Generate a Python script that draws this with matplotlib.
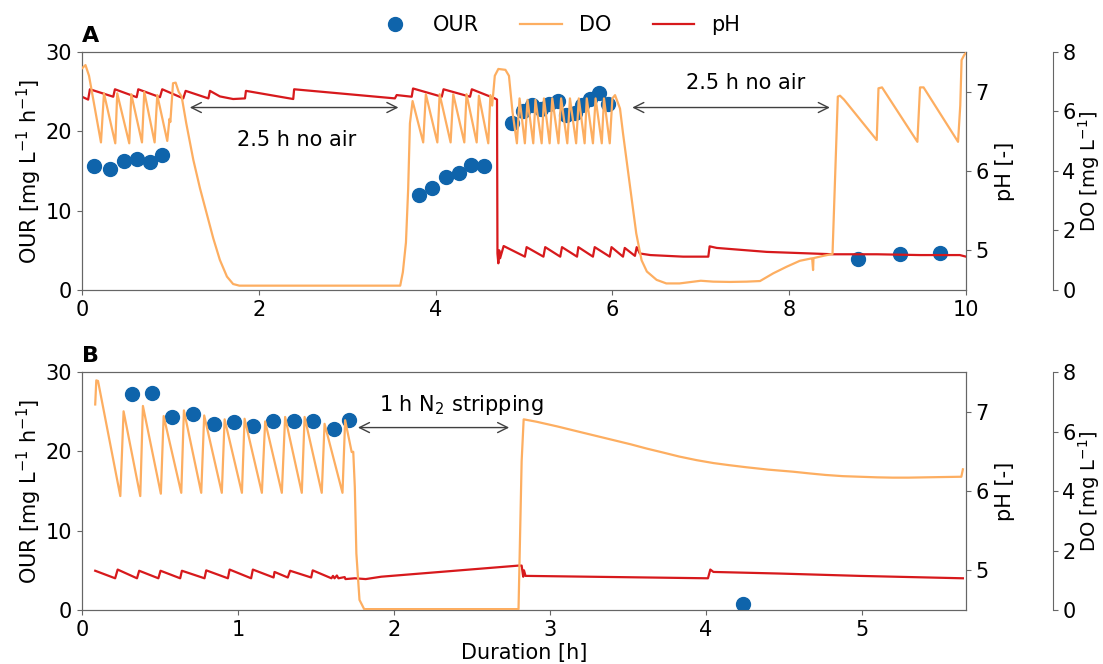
import matplotlib
matplotlib.use("Agg")
import matplotlib.pyplot as plt

# ---------------- data: panel A ----------------
a_our_t = [0.14, 0.317, 0.475, 0.622, 0.77, 0.90,
           3.81, 3.956, 4.12, 4.26, 4.40, 4.55,
           4.86, 4.985, 5.09, 5.196, 5.28, 5.38, 5.47, 5.58, 5.66, 5.75, 5.845, 5.95,
           8.775, 9.25, 9.71]
a_our = [15.66, 15.2, 16.25, 16.5, 16.1, 17.0,
         11.97, 12.8, 14.2, 14.8, 15.8, 15.6,
         21.0, 22.55, 23.3, 22.8, 23.5, 23.85, 22.1, 22.3, 23.3, 24.07, 24.86, 23.4,
         3.87, 4.5, 4.7]

a_do_t = [0.00, 0.04, 0.08, 0.215, 0.249, 0.377, 0.399, 0.535, 0.558, 0.679, 0.705,
          0.822, 0.852, 0.965, 0.99, 1.00, 1.03, 1.06, 1.094, 1.128, 1.18, 1.26, 1.335,
          1.41, 1.485, 1.56, 1.64, 1.71, 1.78, 3.60, 3.63, 3.665, 3.69, 3.71, 3.74,
          3.86, 3.89, 4.02, 4.046, 4.17, 4.20, 4.325, 4.35, 4.465, 4.49, 4.596, 4.62,
          4.64, 4.67, 4.71, 4.79, 4.83, 4.87, 4.92, 4.95, 5.01, 5.04, 5.105, 5.13,
          5.20, 5.226, 5.29, 5.32, 5.39, 5.42, 5.49, 5.52, 5.59, 5.62, 5.686, 5.71,
          5.78, 5.81, 5.88, 5.905, 5.97, 6.0, 6.03, 6.086, 6.12, 6.2, 6.27, 6.33,
          6.39, 6.50, 6.61, 6.76, 6.92, 7.0, 7.14, 7.33, 7.52, 7.67, 7.82, 7.97,
          8.12, 8.25, 8.26, 8.27, 8.275, 8.39, 8.49, 8.55, 8.575, 8.62, 8.99, 9.01,
          9.05, 9.45, 9.48, 9.52, 9.91, 9.935, 9.95, 9.98, 10.0]
a_do = [7.45, 7.56, 7.2, 4.96, 6.61, 4.93, 6.61, 4.93, 6.58, 4.96, 6.66,
        4.96, 6.55, 5.01, 5.75, 5.65, 6.95, 6.97, 6.66, 6.5, 5.6, 4.37, 3.42,
        2.58, 1.74, 1.01, 0.45, 0.2, 0.145, 0.145, 0.6, 1.6, 3.4, 5.6, 6.35,
        4.96, 6.58, 4.96, 6.58, 4.96, 6.58, 4.96, 6.58, 4.96, 6.53, 4.93, 6.55,
        6.2, 7.2, 7.43, 7.40, 7.2, 5.99, 4.93, 6.44, 4.93, 6.39, 4.93, 6.39,
        4.93, 6.44, 4.93, 6.44, 4.93, 6.44, 4.93, 6.44, 4.93, 6.44, 4.93, 6.44,
        4.93, 6.44, 4.93, 6.44, 4.93, 6.44, 6.55, 6.1, 5.27, 3.47, 1.9, 1.0,
        0.62, 0.34, 0.22, 0.22, 0.28, 0.31, 0.28, 0.27, 0.28, 0.30, 0.56, 0.78,
        0.98, 1.06, 1.06, 0.67, 1.07, 1.15, 1.21, 6.5, 6.53, 6.4, 5.04, 6.78,
        6.81, 4.98, 6.81, 6.81, 4.98, 6.2, 7.73, 7.9, 7.97]

a_ph_t = [0.0, 0.07, 0.09, 0.354, 0.373, 0.619, 0.637, 0.882, 0.908, 1.146, 1.173,
          1.43, 1.448, 1.56, 1.71, 1.844, 1.855, 2.39, 2.40, 3.54, 3.56, 3.73, 3.745,
          4.07, 4.09, 4.39, 4.41, 4.67, 4.695, 4.70, 4.71, 4.72, 4.73, 4.77, 5.01,
          5.03, 5.22, 5.24, 5.41, 5.43, 5.60, 5.615, 5.78, 5.80, 5.97, 5.99, 6.12,
          6.14, 6.255, 6.275, 6.31, 6.43, 6.80, 7.085, 7.10, 7.18, 7.745, 8.5, 8.99,
          9.48, 9.93, 10.0]
a_ph = [6.936, 6.90, 7.03, 6.936, 7.03, 6.93, 7.03, 6.93, 7.03, 6.915, 7.01,
        6.915, 7.01, 6.94, 6.907, 6.915, 7.01, 6.907, 7.03, 6.915, 6.957, 6.936, 7.04,
        6.936, 7.03, 6.936, 7.03, 6.915, 6.90, 4.96, 4.836, 5.0, 4.9, 5.054, 4.92,
        5.04, 4.92, 5.04, 4.92, 5.04, 4.92, 5.04, 4.92, 5.04, 4.92, 5.04, 4.92,
        5.03, 4.93, 5.04, 4.96, 4.94, 4.92, 4.92, 5.05, 5.03, 4.98, 4.95, 4.95,
        4.94, 4.94, 4.92]

# ---------------- data: panel B ----------------
b_our_t = [0.322, 0.447, 0.579, 0.71, 0.848, 0.976, 1.10, 1.226, 1.357, 1.485,
           1.617, 1.71, 4.24]
b_our = [27.25, 27.4, 24.36, 24.66, 23.4, 23.7, 23.2, 23.8, 23.85, 23.8,
         22.8, 23.94, 0.72]

b_do_t = [0.085, 0.092, 0.103, 0.246, 0.267, 0.374, 0.391, 0.506, 0.524, 0.637,
          0.654, 0.765, 0.784, 0.897, 0.915, 1.026, 1.043, 1.154, 1.175, 1.282,
          1.303, 1.41, 1.428, 1.538, 1.556, 1.671, 1.688, 1.73, 1.74, 1.75, 1.76,
          1.78, 1.81, 2.80, 2.82, 2.833, 2.915, 3.05, 3.19, 3.30, 3.41, 3.52, 3.62,
          3.73, 3.83, 3.94, 4.05, 4.15, 4.26, 4.40, 4.56, 4.67, 4.77, 4.88, 4.99,
          5.10, 5.20, 5.30, 5.41, 5.52, 5.64, 5.65]
b_do = [6.91, 7.72, 7.70, 3.83, 6.68, 3.83, 6.86, 3.91, 6.52, 3.94,
        6.71, 3.94, 6.54, 3.94, 6.41, 3.94, 6.43, 3.94, 6.34, 3.94,
        6.49, 3.94, 6.49, 3.94, 6.26, 3.94, 6.38, 5.31, 5.32, 4.14, 1.9,
        0.34, 0.03, 0.03, 5.0, 6.41, 6.33, 6.17, 5.99, 5.85, 5.71, 5.57, 5.43,
        5.29, 5.16, 5.04, 4.94, 4.87, 4.80, 4.72, 4.65, 4.59, 4.54, 4.50, 4.48,
        4.46, 4.45, 4.45, 4.46, 4.47, 4.48, 4.73]

b_ph_t = [0.085, 0.213, 0.229, 0.353, 0.367, 0.49, 0.504, 0.63, 0.641, 0.786,
          0.797, 0.936, 0.947, 1.085, 1.096, 1.229, 1.235, 1.32, 1.335, 1.47,
          1.48, 1.60, 1.61, 1.62, 1.635, 1.645, 1.685, 1.69, 1.75, 1.82, 1.92,
          2.80, 2.82, 2.83, 2.835, 2.845, 2.86, 4.015, 4.03, 4.05, 4.47, 4.99, 5.65]
b_ph = [4.995, 4.90, 5.01, 4.90, 4.995, 4.90, 4.995, 4.90, 4.995, 4.90,
        5.0, 4.90, 5.01, 4.90, 5.01, 4.91, 4.98, 4.91, 4.995, 4.91,
        5.0, 4.90, 4.93, 4.90, 4.935, 4.90, 4.915, 4.89, 4.90, 4.89, 4.92,
        5.06, 5.06, 4.92, 5.0, 4.93, 4.93, 4.90, 5.01, 4.98, 4.96, 4.93, 4.90]

# ---------------- style ----------------
C_OUR = '#0f64ab'
C_DO = '#fdae61'
C_PH = '#d7191c'
SP = '0.4'
FS = 15

plt.rcParams['font.family'] = ['DejaVu Sans']
plt.rcParams['font.size'] = FS

fig = plt.figure(figsize=(11.03, 6.64), dpi=100)


def style_axis(a):
    for s in a.spines.values():
        s.set_color(SP)
    a.tick_params(colors=SP, labelcolor='black', labelsize=FS)


def panel(rect, our_t, our, do_t, do, ph_t, ph, xmax, xticks, letter):
    ax = fig.add_axes(rect)
    axp = ax.twinx()
    axd = ax.twinx()
    axd.spines['right'].set_position(('axes', 1.098))
    for s in ['left', 'top', 'bottom']:
        axd.spines[s].set_visible(False)

    h1, = ax.plot(our_t, our, 'o', ls='none', ms=10, color=C_OUR, label='OUR', zorder=3)
    h3, = axp.plot(ph_t, ph, '-', lw=1.6, color=C_PH, label='pH')
    h2, = axd.plot(do_t, do, '-', lw=1.6, color=C_DO, label='DO')

    ax.set_xlim(0, xmax)
    ax.set_xticks(xticks)
    ax.set_ylim(0, 30)
    ax.set_yticks([0, 10, 20, 30])
    axp.set_ylim(4.5, 7.5)
    axp.set_yticks([5, 6, 7])
    axd.set_ylim(0, 8)
    axd.set_yticks([0, 2, 4, 6, 8])

    ax.set_ylabel('OUR [mg L$^{-1}$ h$^{-1}$]', fontsize=FS, labelpad=1.5)
    axp.set_ylabel('pH [-]', fontsize=FS)
    axd.set_ylabel('DO [mg L$^{-1}$]', fontsize=14, labelpad=0)
    for a in (ax, axp, axd):
        style_axis(a)
    ax.text(0.0, 1.025, letter, transform=ax.transAxes, fontsize=16,
            fontweight='bold', ha='left', va='bottom')
    return ax, (h1, h2, h3)


axA, handles = panel([0.0743, 0.5633, 0.8015, 0.3584], a_our_t, a_our, a_do_t, a_do,
                     a_ph_t, a_ph, 10, [0, 2, 4, 6, 8, 10], 'A')
axB, _ = panel([0.0743, 0.0813, 0.8015, 0.3584], b_our_t, b_our, b_do_t, b_do,
               b_ph_t, b_ph, 5.67, [0, 1, 2, 3, 4, 5], 'B')
axB.set_xlabel('Duration [h]', fontsize=FS, labelpad=2)

arrow = dict(arrowstyle='<->', color='0.25', lw=1, mutation_scale=18,
             shrinkA=0, shrinkB=0)
axA.annotate('', xy=(1.22, 23), xytext=(3.58, 23), arrowprops=arrow)
axA.text(2.43, 18.9, '2.5 h no air', ha='center', va='center', fontsize=FS)
axA.annotate('', xy=(6.225, 23), xytext=(8.46, 23), arrowprops=arrow)
axA.text(7.51, 26.1, '2.5 h no air', ha='center', va='center', fontsize=FS)
axB.annotate('', xy=(1.77, 23), xytext=(2.74, 23), arrowprops=arrow)
axB.text(2.43, 25.8, '1 h N$_2$ stripping', ha='center', va='center', fontsize=FS)

fig.legend(handles, ['OUR', 'DO', 'pH'], loc='center', ncol=3, frameon=False,
           bbox_to_anchor=(0.505, 0.962), fontsize=FS, columnspacing=2.0)

fig.savefig('out.png', dpi=100)
